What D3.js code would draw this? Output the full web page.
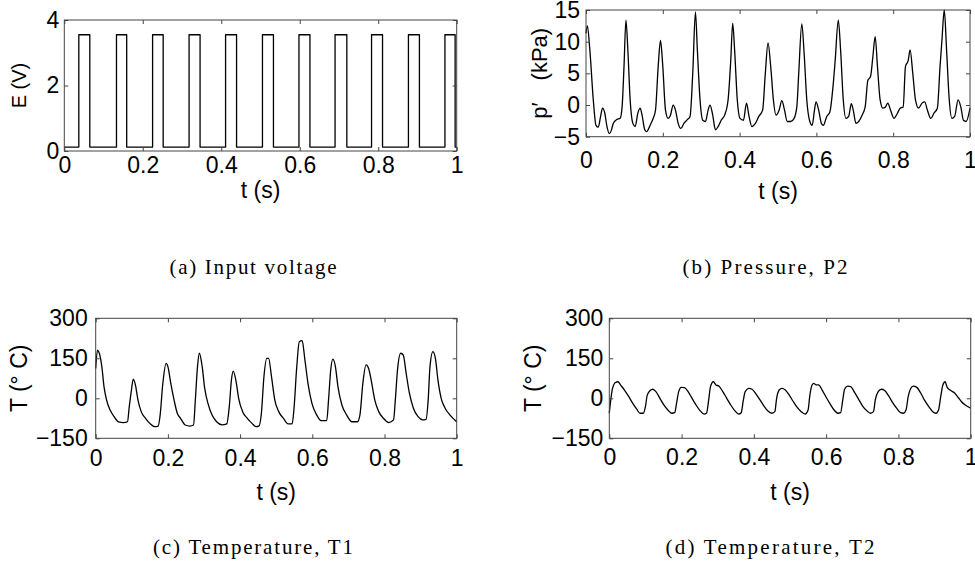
<!DOCTYPE html>
<html>
<head>
<meta charset="utf-8">
<script src="https://cdn.jsdelivr.net/npm/d3@7"></script>
<style>
  body { margin: 0; background: #fff; }
  svg { display: block; }
</style>
</head>
<body>
<svg id="chart" width="975" height="574"></svg>
<script>
// ---- data ----
const xTicks = [0, 0.2, 0.4, 0.6, 0.8, 1];
const voltTicks = [0, 2, 4];
const pressTicks = [-5, 0, 5, 10, 15];
const tempTicks = [-150, 0, 150, 300];

// (a) square pulses: switch-on / switch-off times (s) and the two levels (V)
const pulseOn = [0.037, 0.133, 0.225, 0.318, 0.411, 0.505, 0.598, 0.690, 0.783, 0.877, 0.970];
const pulseOff = [0.065, 0.159, 0.252, 0.346, 0.439, 0.533, 0.626, 0.720, 0.811, 0.905, 0.996];
const voltHigh = 3.55;
const voltLow = 0.12;

// (b) pressure P2 (kPa)
const pTime = [0, 0.0035, 0.010, 0.019, 0.026, 0.032, 0.038, 0.043, 0.049, 0.054, 0.061, 0.066, 0.071, 0.080, 0.089, 0.094, 0.099, 0.104, 0.109, 0.115, 0.122, 0.128, 0.135, 0.141, 0.146, 0.153, 0.158, 0.167, 0.175, 0.181, 0.188, 0.194, 0.200, 0.207, 0.214, 0.220, 0.227, 0.233, 0.240, 0.247, 0.255, 0.264, 0.271, 0.278, 0.285, 0.290, 0.297, 0.304, 0.311, 0.318, 0.323, 0.330, 0.337, 0.344, 0.352, 0.361, 0.370, 0.377, 0.382, 0.387, 0.394, 0.401, 0.410, 0.418, 0.424, 0.432, 0.441, 0.450, 0.460, 0.467, 0.474, 0.481, 0.488, 0.495, 0.503, 0.510, 0.517, 0.524, 0.533, 0.542, 0.549, 0.554, 0.562, 0.568, 0.575, 0.582, 0.589, 0.595, 0.599, 0.606, 0.613, 0.618, 0.627, 0.635, 0.644, 0.649, 0.657, 0.663, 0.670, 0.677, 0.684, 0.691, 0.696, 0.703, 0.710, 0.719, 0.727, 0.734, 0.741, 0.747, 0.753, 0.759, 0.766, 0.773, 0.780, 0.786, 0.793, 0.802, 0.811, 0.818, 0.826, 0.832, 0.839, 0.844, 0.851, 0.858, 0.866, 0.875, 0.882, 0.889, 0.898, 0.906, 0.915, 0.922, 0.927, 0.933, 0.939, 0.946, 0.953, 0.960, 0.969, 0.976, 0.983, 0.990, 1.000];
const pValue = [11.3, 12.5, 8.7, 0.8, -3.2, -3.5, -1.8, -0.5, -1.3, -3.2, -4.5, -4.0, -2.9, -2.3, -2.1, -0.3, 6.1, 13.4, 8.7, 0.8, -2.9, -3.4, -1.3, -0.5, -1.6, -3.9, -4.2, -3.2, -2.1, -0.8, 6.1, 10.2, 6.1, -0.8, -2.1, -1.6, 0.0, -0.8, -2.9, -3.7, -2.9, -2.3, -1.8, 5.0, 14.7, 8.7, 0.8, -2.4, -2.6, -0.8, 0.0, -1.6, -3.9, -3.4, -2.4, -1.6, 0.8, 7.1, 12.9, 8.7, 0.8, -2.1, -2.4, 0.3, -1.6, -3.4, -2.9, -1.8, -0.8, 5.0, 9.8, 6.1, 0.8, -1.6, -0.8, 0.7, -0.8, -2.6, -2.6, -2.1, -0.3, 5.0, 12.8, 8.2, 0.8, -2.4, -3.2, -0.8, 0.5, -0.8, -2.9, -3.2, -1.8, -1.1, 3.4, 7.1, 13.4, 8.7, 0.8, -2.1, -1.8, 0.2, -0.8, -2.9, -2.6, -1.6, -0.3, 3.9, 4.5, 7.6, 10.8, 6.1, 0.8, -0.5, -0.3, 0.3, -0.8, -2.1, -1.3, -0.5, -0.3, 6.1, 7.0, 8.7, 5.0, 0.8, -0.5, 0.3, 0.5, -0.8, -2.1, -1.3, -0.5, 6.1, 10.3, 15.0, 8.7, 0.8, -2.1, -1.8, 0.8, -0.3, -2.4, -2.6, -0.5];

// (c) temperature T1 (deg C)
const t1Time = [0, 0.005, 0.010, 0.017, 0.023, 0.030, 0.040, 0.051, 0.063, 0.077, 0.088, 0.093, 0.099, 0.104, 0.110, 0.117, 0.126, 0.138, 0.150, 0.163, 0.173, 0.178, 0.186, 0.195, 0.200, 0.208, 0.217, 0.226, 0.235, 0.248, 0.261, 0.271, 0.276, 0.282, 0.287, 0.295, 0.302, 0.311, 0.322, 0.335, 0.350, 0.363, 0.370, 0.376, 0.381, 0.389, 0.396, 0.407, 0.420, 0.433, 0.444, 0.452, 0.459, 0.466, 0.474, 0.479, 0.487, 0.496, 0.507, 0.520, 0.533, 0.544, 0.549, 0.557, 0.564, 0.572, 0.579, 0.588, 0.599, 0.612, 0.625, 0.640, 0.645, 0.651, 0.657, 0.664, 0.671, 0.682, 0.695, 0.710, 0.725, 0.732, 0.740, 0.749, 0.756, 0.764, 0.773, 0.784, 0.797, 0.812, 0.825, 0.830, 0.836, 0.845, 0.852, 0.860, 0.869, 0.880, 0.893, 0.906, 0.915, 0.921, 0.926, 0.934, 0.941, 0.948, 0.957, 0.968, 0.981, 1.000];
const t1Value = [112, 181, 169, 119, 44, -6, -44, -69, -88, -91, -88, -31, 31, 72, 50, -6, -50, -75, -94, -106, -104, -69, 56, 131, 119, 56, -6, -56, -75, -100, -104, -100, -6, 119, 169, 119, 37, -19, -62, -88, -100, -96, -31, 69, 102, 62, 0, -50, -75, -94, -106, -104, -56, 81, 150, 150, 81, -6, -50, -75, -96, -96, -44, 119, 212, 216, 150, 56, -19, -62, -84, -84, -6, 106, 147, 119, 44, -25, -62, -88, -88, -62, 56, 125, 112, 62, -6, -50, -75, -91, -81, -6, 106, 169, 162, 94, 19, -37, -69, -81, -79, -6, 119, 175, 150, 69, 0, -37, -62, -88];

// (d) temperature T2 (deg C)
const t2Time = [0, 0.004, 0.009, 0.017, 0.024, 0.031, 0.042, 0.054, 0.065, 0.076, 0.085, 0.094, 0.100, 0.105, 0.113, 0.120, 0.129, 0.140, 0.151, 0.162, 0.173, 0.181, 0.186, 0.192, 0.199, 0.208, 0.218, 0.229, 0.240, 0.251, 0.262, 0.269, 0.275, 0.280, 0.288, 0.295, 0.303, 0.314, 0.325, 0.336, 0.347, 0.358, 0.365, 0.371, 0.376, 0.386, 0.395, 0.406, 0.417, 0.428, 0.439, 0.450, 0.458, 0.463, 0.470, 0.478, 0.487, 0.498, 0.509, 0.520, 0.531, 0.542, 0.550, 0.555, 0.561, 0.566, 0.572, 0.579, 0.589, 0.600, 0.611, 0.622, 0.633, 0.640, 0.646, 0.651, 0.659, 0.668, 0.679, 0.690, 0.701, 0.712, 0.723, 0.731, 0.736, 0.744, 0.753, 0.762, 0.773, 0.784, 0.795, 0.806, 0.814, 0.821, 0.827, 0.834, 0.841, 0.851, 0.862, 0.873, 0.884, 0.895, 0.904, 0.911, 0.917, 0.923, 0.929, 0.935, 0.945, 0.956, 0.965, 0.974, 0.985, 1.000];
const t2Value = [-56, -6, 37, 59, 62, 50, 31, 6, -19, -41, -56, -56, -31, 12, 29, 34, 25, 0, -25, -44, -56, -54, -19, 25, 41, 40, 25, 0, -25, -46, -59, -56, -6, 44, 62, 50, 46, 25, 0, -25, -46, -59, -54, -6, 25, 37, 34, 16, -6, -29, -48, -56, -50, 0, 31, 37, 31, 12, -12, -34, -50, -59, -44, 12, 50, 56, 50, 50, 31, 4, -21, -44, -56, -54, -6, 34, 46, 44, 21, -4, -29, -46, -56, -50, -6, 25, 34, 29, 9, -16, -37, -54, -56, -44, 6, 37, 46, 41, 19, -9, -31, -50, -56, -44, 6, 50, 62, 41, 29, 19, 4, -12, -25, -37];

const captions = ["(a) Input voltage", "(b) Pressure, P2", "(c) Temperature, T1", "(d) Temperature, T2"];

// build the step trace for the pulses
var voltPoints = [[0, voltLow]];
pulseOn.forEach(function (t, i) {
    voltPoints.push([t, voltHigh]);
    voltPoints.push([pulseOff[i], voltLow]);
});
voltPoints.push([1, voltLow]);

const zip = (a, b) => a.map((t, i) => [t, b[i]]);

const panels = [
    { x0: 64.3, x1: 456.7, y0: 20, y1: 151, yDomain: [0, 4], yTicks: voltTicks, pts: voltPoints, step: true,
      ylabel: "E (V)", ylabX: 19, ylabSize: 20, xPad: 6, yPad: 5, xlabY: 190, cap: captions[0], capX: 253, capY: 267, capW: 167 },
    { x0: 586, x1: 970, y0: 10, y1: 136.7, yDomain: [-5, 15], yTicks: pressTicks, pts: zip(pTime, pValue),
      ylabel: "p\u2032\u2003(kPa)", ylabX: 539, ylabSize: 22, xPad: 15, yPad: 6, xlabY: 191, cap: captions[1], capX: 765, capY: 267, capW: 165 },
    { x0: 95.7, x1: 456.7, y0: 318.3, y1: 438.3, yDomain: [-150, 300], yTicks: tempTicks, pts: zip(t1Time, t1Value),
      ylabel: "T (\u00b0 C)", ylabX: 19, ylabSize: 23, xPad: 11, yPad: 8, xlabY: 492, cap: captions[2], capX: 253, capY: 547, capW: 200 },
    { x0: 609.3, x1: 970.7, y0: 318.3, y1: 438.3, yDomain: [-150, 300], yTicks: tempTicks, pts: zip(t2Time, t2Value),
      ylabel: "T (\u00b0 C)", ylabX: 533, ylabSize: 23, xPad: 10, yPad: 6, xlabY: 492, cap: captions[3], capX: 770, capY: 547, capW: 209 }
];

const svg = d3.select("#chart");
const sans = "'Liberation Sans', Arial, Helvetica, sans-serif";
const tickLen = 4;

panels.forEach(function (p) {
    const x = d3.scaleLinear().domain([0, 1]).range([p.x0, p.x1]);
    const y = d3.scaleLinear().domain(p.yDomain).range([p.y1, p.y0]);
    const g = svg.append("g");

    // trace
    const line = d3.line().x(d => x(d[0])).y(d => y(d[1]));
    if (p.step) line.curve(d3.curveStepAfter);
    else line.curve(d3.curveMonotoneX);
    g.append("path")
        .datum(p.pts)
        .attr("fill", "none")
        .attr("stroke", "#000")
        .attr("stroke-width", 1.3)
        .attr("stroke-linejoin", "round")
        .attr("d", line);

    // inward ticks on all four sides
    const bottom = g.append("g").attr("transform", "translate(0," + p.y1 + ")")
        .call(d3.axisBottom(x).tickValues(xTicks).tickSize(-tickLen).tickPadding(p.xPad).tickFormat(d3.format("")));
    const top = g.append("g").attr("transform", "translate(0," + p.y0 + ")")
        .call(d3.axisTop(x).tickValues(xTicks).tickSize(-tickLen).tickFormat(""));
    const left = g.append("g").attr("transform", "translate(" + p.x0 + ",0)")
        .call(d3.axisLeft(y).tickValues(p.yTicks).tickSize(-tickLen).tickPadding(p.yPad).tickFormat(d3.format("")));
    const right = g.append("g").attr("transform", "translate(" + p.x1 + ",0)")
        .call(d3.axisRight(y).tickValues(p.yTicks).tickSize(-tickLen).tickFormat(""));

    [bottom, top, left, right].forEach(function (a) {
        a.select(".domain").remove();
        a.selectAll("line").attr("stroke", "#444");
        a.attr("font-family", sans).attr("font-size", 23);
        a.selectAll("text").attr("fill", "#000");
    });

    // box
    g.append("rect")
        .attr("x", p.x0).attr("y", p.y0)
        .attr("width", p.x1 - p.x0).attr("height", p.y1 - p.y0)
        .attr("fill", "none").attr("stroke", "#444").attr("stroke-width", 1);

    // axis labels
    g.append("text")
        .attr("x", (p.x0 + p.x1) / 2).attr("y", p.xlabY)
        .attr("dy", "0.35em")
        .attr("text-anchor", "middle")
        .attr("font-family", sans).attr("font-size", 23)
        .text("t (s)");

    g.append("text")
        .attr("transform", "translate(" + p.ylabX + "," + (p.y0 + p.y1) / 2 + ") rotate(-90)")
        .attr("dy", "0.35em")
        .attr("text-anchor", "middle")
        .attr("font-family", sans).attr("font-size", p.ylabSize)
        .text(p.ylabel);

    // caption
    svg.append("text")
        .attr("x", p.capX - p.capW / 2).attr("y", p.capY)
        .attr("dy", "0.35em")
        .attr("textLength", p.capW)
        .attr("lengthAdjust", "spacing")
        .attr("font-family", "'Liberation Serif', 'DejaVu Serif', serif")
        .attr("font-weight", "normal")
        .attr("font-size", 21)
        .text(p.cap);
});
</script>
</body>
</html>
